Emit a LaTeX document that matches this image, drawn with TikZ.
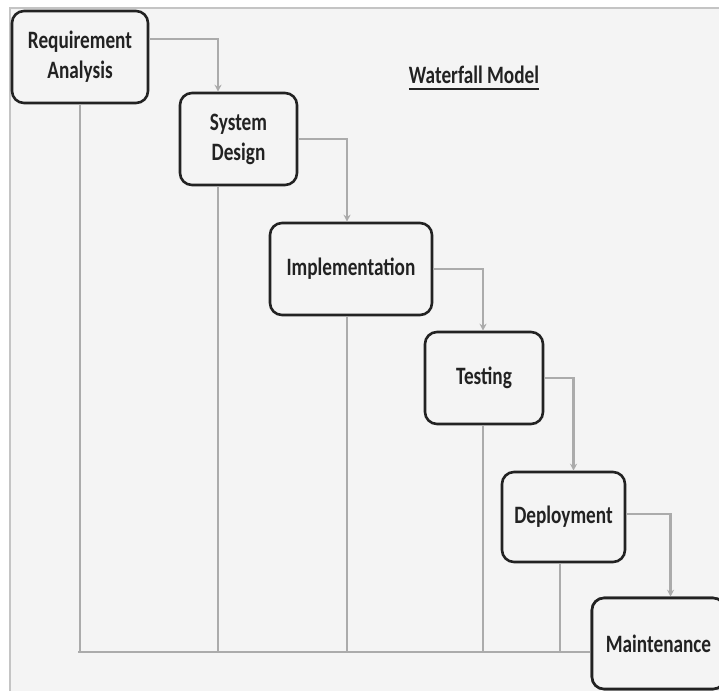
\documentclass[tikz,border=0pt]{standalone}
\usepackage{fontspec}
\setmainfont{Carlito}
\newfontfamily\condfont[FakeStretch=0.77]{Carlito}
\usetikzlibrary{arrows.meta}
\definecolor{bgc}{HTML}{F4F4F4}
\definecolor{edgec}{HTML}{C4C4C4}
\definecolor{linec}{HTML}{ABABAB}
\definecolor{boxc}{HTML}{222222}
\tikzset{
  stage/.style={draw=boxc, line width=2.6pt, rounded corners=12pt, fill=bgc,
    text=boxc, font=\condfont\bfseries\fontsize{25}{30}\selectfont, align=center,
    inner sep=0pt},
  conn/.style={draw=linec, line width=2.4pt},
  flow/.style={conn, -{Stealth[length=7pt,width=7pt]}},
}
\begin{document}
\begin{tikzpicture}[x=1pt,y=-1pt]
\useasboundingbox (0,0) rectangle (719,691);
\fill[white] (0,0) rectangle (719,691);
\fill[bgc] (10,8) rectangle (719,691);
\draw[edgec, line width=1.5pt] (10,691) -- (10,8) -- (719,8);

\node[stage, minimum width=136pt, minimum height=92pt] (ra) at (80,57) {Requirement\\Analysis};
\node[stage, minimum width=117pt, minimum height=92pt] (sd) at (238.5,139) {System\\Design};
\node[stage, minimum width=162pt, minimum height=92pt] (im) at (351,269) {Implementation};
\node[stage, minimum width=118pt, minimum height=92pt] (te) at (484,378) {Testing};
\node[stage, minimum width=123pt, minimum height=90pt] (de) at (563.5,517) {Deployment};
\node[stage, minimum width=133pt, minimum height=91pt] (ma) at (658.5,643.5) {Maintenance};

\node[text=boxc, font=\condfont\bfseries\fontsize{25}{28}\selectfont, inner sep=0pt] (title) at (474,75) {Waterfall Model};
\draw[boxc, line width=2.6pt] ([yshift=-5pt]title.south west) -- ([yshift=-5pt]title.south east);

% forward flow
\draw[flow] ([yshift=18pt]ra.east) -| ([xshift=-20.5pt]sd.north);
\draw[flow] (sd.east) -| ([xshift=-4pt]im.north);
\draw[flow] (im.east) -| ([xshift=-1pt]te.north);
\draw[flow] (te.east) -| ([xshift=10pt]de.north);
\draw[flow] ([yshift=3pt]de.east) -| ([xshift=12pt]ma.north);

% return lines
\coordinate (bl) at (78,652);
\draw[conn] (ra.south) -- (ra.south |- bl);
\draw[conn] ([xshift=-20.5pt]sd.south) -- ([xshift=-20.5pt]sd.south |- bl);
\draw[conn] ([xshift=-4pt]im.south) -- ([xshift=-4pt]im.south |- bl);
\draw[conn] ([xshift=-1pt]te.south) -- ([xshift=-1pt]te.south |- bl);
\draw[conn] ([xshift=-3.5pt]de.south) -- ([xshift=-3.5pt]de.south |- bl);
\draw[conn] (bl) -- (bl -| ma.west);

\node[stage, minimum width=133pt, minimum height=91pt] at (ma) {Maintenance};
\end{tikzpicture}
\end{document}
